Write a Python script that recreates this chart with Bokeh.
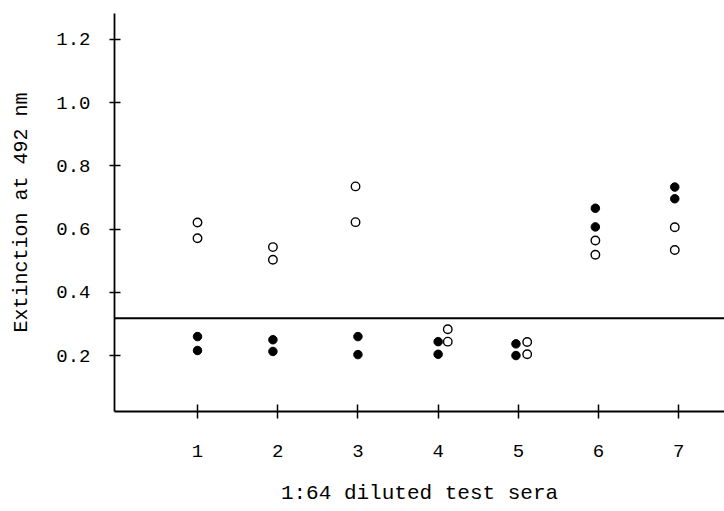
from bokeh.plotting import figure
from bokeh.models import FixedTicker, Span, Range1d
from bokeh.embed import file_html
from bokeh.resources import INLINE

# Data
sera_ticks = [1, 2, 3, 4, 5, 6, 7]
y_ticks = [0.2, 0.4, 0.6, 0.8, 1.0, 1.2]
y_tick_labels = {0.2: "0.2", 0.4: "0.4", 0.6: "0.6", 0.8: "0.8", 1.0: "1.0", 1.2: "1.2"}

filled_x = [1.0, 1.0, 1.94, 1.94, 3.0, 3.0, 4.0, 4.0, 4.97, 4.97, 5.96, 5.96, 6.95, 6.95]
filled_y = [0.260, 0.216, 0.250, 0.213, 0.260, 0.203, 0.244, 0.204, 0.237, 0.200, 0.666, 0.607, 0.733, 0.696]

open_x = [1.0, 1.0, 1.94, 1.94, 2.97, 2.97, 4.12, 4.12, 5.11, 5.11, 5.96, 5.96, 6.95, 6.95]
open_y = [0.621, 0.571, 0.543, 0.503, 0.735, 0.622, 0.283, 0.244, 0.243, 0.204, 0.564, 0.519, 0.606, 0.534]

cutoff = 0.318

FONT = "Liberation Mono"

p = figure(width=724, height=511, output_backend="svg", toolbar_location=None,
           x_range=Range1d(-0.035, 7.57), y_range=Range1d(0.023, 1.282),
           min_border_left=114, min_border_right=0, min_border_top=13, min_border_bottom=100)
p.outline_line_color = None
p.grid.visible = False
p.background_fill_color = "white"
p.border_fill_color = "white"

# axes
p.xaxis.ticker = FixedTicker(ticks=sera_ticks)
p.yaxis.ticker = FixedTicker(ticks=y_ticks)
p.yaxis.major_label_overrides = y_tick_labels
for ax in (p.xaxis, p.yaxis):
    ax.axis_line_color = "black"
    ax.axis_line_width = 1.8
    ax.major_tick_line_color = "black"
    ax.major_tick_line_width = 1.5
    ax.minor_tick_line_color = None
    ax.major_label_text_font = FONT
    ax.major_label_text_font_size = "19px"
    ax.major_label_text_color = "black"
    ax.axis_label_text_font = FONT
    ax.axis_label_text_font_style = "normal"
    ax.axis_label_text_color = "black"
p.xaxis.major_tick_in = 7
p.xaxis.major_tick_out = 7
p.xaxis.major_label_standoff = 26
p.yaxis.major_tick_in = 6
p.yaxis.major_tick_out = 5
p.yaxis.major_label_standoff = 19

p.xaxis.axis_label = "1:64 diluted test sera"
p.xaxis.axis_label_text_font_size = "21px"
p.xaxis.axis_label_standoff = 22

p.yaxis.axis_label = "Extinction at 492 nm"
p.yaxis.axis_label_text_font_size = "20px"
p.yaxis.axis_label_standoff = 20

# threshold line
p.add_layout(Span(location=cutoff, dimension="width", line_color="black", line_width=2))

# points
p.scatter(filled_x, filled_y, size=8.5, marker="circle", fill_color="black", line_color="black")
p.scatter(open_x, open_y, size=8.5, marker="circle", fill_color="white", line_color="black", line_width=1.4)

open("out.html", "w").write(file_html(p, INLINE))
